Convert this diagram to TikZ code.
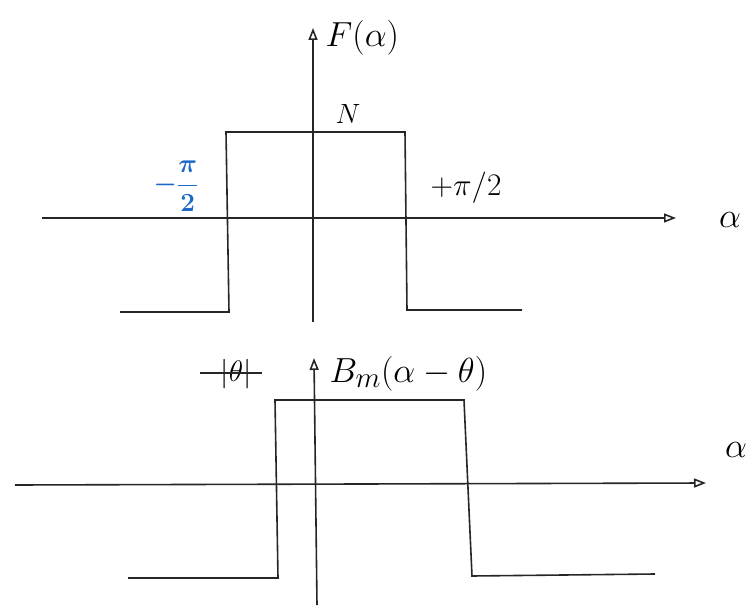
\documentclass[tikz,border=0pt]{standalone}
\usetikzlibrary{arrows.meta}
\definecolor{penblue}{RGB}{30,105,200}
\begin{document}
\begin{tikzpicture}[x=1pt,y=-1pt,
  pen/.style={line width=1.6pt,black!85},
  axis/.style={pen,-{Triangle[open,length=12pt,width=9pt]}},
  lbl/.style={font=\Huge,inner sep=1pt,scale=1.4}]
\useasboundingbox (0,0) rectangle (748,610);
% ---- top graph ----
\coordinate (tx0) at (42,218);
\coordinate (tx1) at (676,218);
\coordinate (ty0) at (313,322);
\coordinate (ty1) at (313,28);
\draw[axis] (tx0) -- (tx1);
\draw[axis] (ty0) -- (ty1);
\coordinate (a1) at (120,312);
\coordinate (a2) at (229,312);
\coordinate (a3) at (226,132);
\coordinate (a4) at (405,132);
\coordinate (a5) at (407,310);
\coordinate (a6) at (522,310);
\draw[pen] (a1) -- (a2) -- (a3) -- (a4) -- (a5) -- (a6);
\node[lbl,anchor=west] (F) at (324,38) {$F(\alpha)$};
\node[lbl,scale=0.8] (N) at (348,114) {$N$};
\node[lbl,text=penblue,font=\Huge\boldmath,scale=0.75] (mpi) at (176,186) {$-\displaystyle\frac{\pi}{2}$};
\node[lbl,scale=0.9] (ppi) at (466,188) {$+\pi/2$};
\node[lbl] (al1) at (730,220) {$\alpha$};
% ---- bottom graph ----
\coordinate (bx0) at (15,485);
\coordinate (bx1) at (706,483);
\coordinate (by0) at (317,605);
\coordinate (by1) at (314,358);
\draw[axis] (bx0) -- (bx1);
\draw[axis] (by0) -- (by1);
\coordinate (b1) at (128,578);
\coordinate (b2) at (278,578);
\coordinate (b3) at (275,400);
\coordinate (b4) at (464,400);
\coordinate (b5) at (472,576);
\coordinate (b6) at (655,574);
\draw[pen] (b1) -- (b2) -- (b3) -- (b4) -- (b5) -- (b6);
\node[lbl,scale=0.85] (th) at (236,374) {$|\theta|$};
\coordinate (s0) at (200,373);
\coordinate (s1) at (262,373);
\draw[pen,line width=1.2pt] (s0) -- (s1);
\node[lbl,anchor=west] (B) at (328,374) {$B_m(\alpha-\theta)$};
\node[lbl] (al2) at (736,450) {$\alpha$};
\end{tikzpicture}
\end{document}
